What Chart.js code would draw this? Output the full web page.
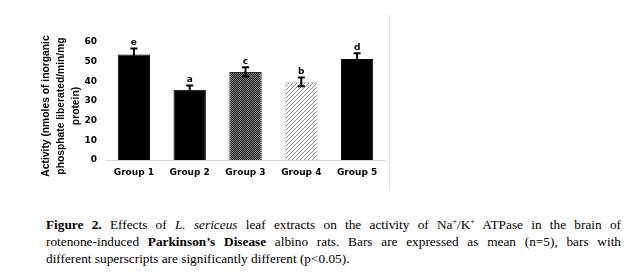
<!DOCTYPE html>
<html lang="en">
<head>
    <meta charset="UTF-8">
    <title>Na+/K+ ATPase activity</title>
    <script src="https://cdn.jsdelivr.net/npm/chart.js"></script>
    <style>
        html, body {
            margin: 0;
            padding: 0;
            background: #fff;
        }
        body {
            width: 632px;
            height: 272px;
            position: relative;
            overflow: hidden;
        }
        #atpaseChart {
            position: absolute;
            left: 0;
            top: 0;
        }
        .caption {
            position: absolute;
            left: 46px;
            top: 216px;
            width: 575px;
            font-family: "Liberation Serif", "Times New Roman", serif;
            font-size: 13.3px;
            line-height: 17px;
            color: #000;
        }
        .caption div {
            text-align: justify;
            text-align-last: justify;
            white-space: nowrap;
        }
        .caption div.last {
            text-align-last: left;
        }
        .caption sup {
            font-size: 8px;
            vertical-align: 5px;
            line-height: 0;
        }
    </style>
</head>
<body>
    <canvas id="atpaseChart" width="400" height="200"></canvas>

    <div class="caption">
        <div><b>Figure 2.</b> Effects of <i>L. sericeus</i> leaf extracts on the activity of Na<sup>+</sup>/K<sup>+</sup> ATPase in the brain of</div>
        <div>rotenone-induced <b>Parkinson’s Disease</b> albino rats. Bars are expressed as mean (n=5), bars with</div>
        <div class="last">different superscripts are significantly different (p&lt;0.05).</div>
    </div>

    <script>
        const groups = ['Group 1', 'Group 2', 'Group 3', 'Group 4', 'Group 5'];
        const activity = [53.7, 35.7, 44.8, 39.7, 51.3];
        const errors = [3.0, 2.2, 2.3, 2.2, 3.0];
        const sigLetters = ['e', 'a', 'c', 'b', 'd'];
        const yTicks = [0, 10, 20, 30, 40, 50, 60];
        const yTitle = ['Activity (nmoles of inorganic', 'phosphate liberated/min/mg', 'protein)'];

        // fill patterns for groups 3 and 4
        function checkerPattern() {
            const c = document.createElement('canvas');
            c.width = 2; c.height = 2;
            const g = c.getContext('2d');
            g.fillStyle = '#1c1c1c';
            g.fillRect(0, 0, 2, 2);
            g.fillStyle = '#808080';
            g.fillRect(0, 0, 1, 1);
            g.fillRect(1, 1, 1, 1);
            return g.createPattern(c, 'repeat');
        }

        function stripePattern() {
            const c = document.createElement('canvas');
            c.width = 4; c.height = 4;
            const g = c.getContext('2d');
            g.fillStyle = '#ffffff';
            g.fillRect(0, 0, 4, 4);
            g.strokeStyle = '#8c8c8c';
            g.lineWidth = 1;
            g.beginPath();
            g.moveTo(-1, 5); g.lineTo(5, -1);
            g.moveTo(-1, 1); g.lineTo(1, -1);
            g.moveTo(3, 5); g.lineTo(5, 3);
            g.stroke();
            return g.createPattern(c, 'repeat');
        }

        const fills = ['#000000', '#000000', checkerPattern(), stripePattern(), '#000000'];
        const borders = ['#000000', '#000000', '#2a2a2a', '#d0d0d0', '#000000'];

        const errorBars = {
            id: 'errorBars',
            afterDatasetsDraw(chart) {
                const ctx = chart.ctx;
                const y = chart.scales.y;
                const meta = chart.getDatasetMeta(0);
                ctx.save();
                meta.data.forEach((bar, i) => {
                    const top = y.getPixelForValue(activity[i] + errors[i]);
                    const bot = y.getPixelForValue(activity[i] - errors[i]);
                    ctx.strokeStyle = '#000';
                    ctx.lineWidth = 2;
                    ctx.beginPath();
                    ctx.moveTo(bar.x, top); ctx.lineTo(bar.x, bot);
                    ctx.moveTo(bar.x - 3.5, top); ctx.lineTo(bar.x + 3.5, top);
                    ctx.moveTo(bar.x - 3.5, bot); ctx.lineTo(bar.x + 3.5, bot);
                    ctx.stroke();

                    ctx.fillStyle = '#000';
                    ctx.font = 'bold 9px "DejaVu Sans"';
                    ctx.textAlign = 'center';
                    ctx.textBaseline = 'middle';
                    ctx.fillText(sigLetters[i], bar.x, top - 6);
                });

                // y axis title, three rotated lines
                ctx.font = 'bold 10.3px "Liberation Sans"';
                ctx.textAlign = 'center';
                ctx.textBaseline = 'middle';
                yTitle.forEach((line, k) => {
                    ctx.save();
                    ctx.translate(46.5 + k * 15, 106);
                    ctx.rotate(-Math.PI / 2);
                    ctx.fillText(line, 0, 0);
                    ctx.restore();
                });

                // faint frame edge of the embedded chart
                ctx.strokeStyle = '#dcdcdc';
                ctx.lineWidth = 1;
                ctx.beginPath();
                ctx.moveTo(389.5, 15); ctx.lineTo(389.5, 190);
                ctx.stroke();
                ctx.restore();
            }
        };

        new Chart(document.getElementById('atpaseChart'), {
            type: 'bar',
            data: {
                labels: groups,
                datasets: [{
                    data: activity,
                    backgroundColor: fills,
                    borderColor: borders,
                    borderWidth: 1,
                    categoryPercentage: 1,
                    barPercentage: 0.58
                }]
            },
            options: {
                responsive: false,
                animation: false,
                layout: { padding: { left: 30, right: 15, top: 42, bottom: 15 } },
                plugins: {
                    legend: { display: false },
                    tooltip: { enabled: false }
                },
                scales: {
                    x: {
                        grid: { display: false, drawTicks: false },
                        border: { display: true, color: '#d9d9d9', width: 1 },
                        ticks: {
                            color: '#000',
                            padding: 7,
                            font: { family: '"DejaVu Sans"', size: 9, weight: 'bold' }
                        },
                        afterFit(s) { s.height = 25; }
                    },
                    y: {
                        min: 0,
                        max: 60,
                        afterBuildTicks(s) { s.ticks = yTicks.map(v => ({ value: v })); },
                        grid: { display: false, drawTicks: false },
                        border: { display: false },
                        ticks: {
                            color: '#000',
                            padding: 9,
                            font: { family: '"DejaVu Sans"', size: 9, weight: 'bold' }
                        },
                        afterFit(s) { s.width = 76; }
                    }
                }
            },
            plugins: [errorBars]
        });
    </script>
</body>
</html>
